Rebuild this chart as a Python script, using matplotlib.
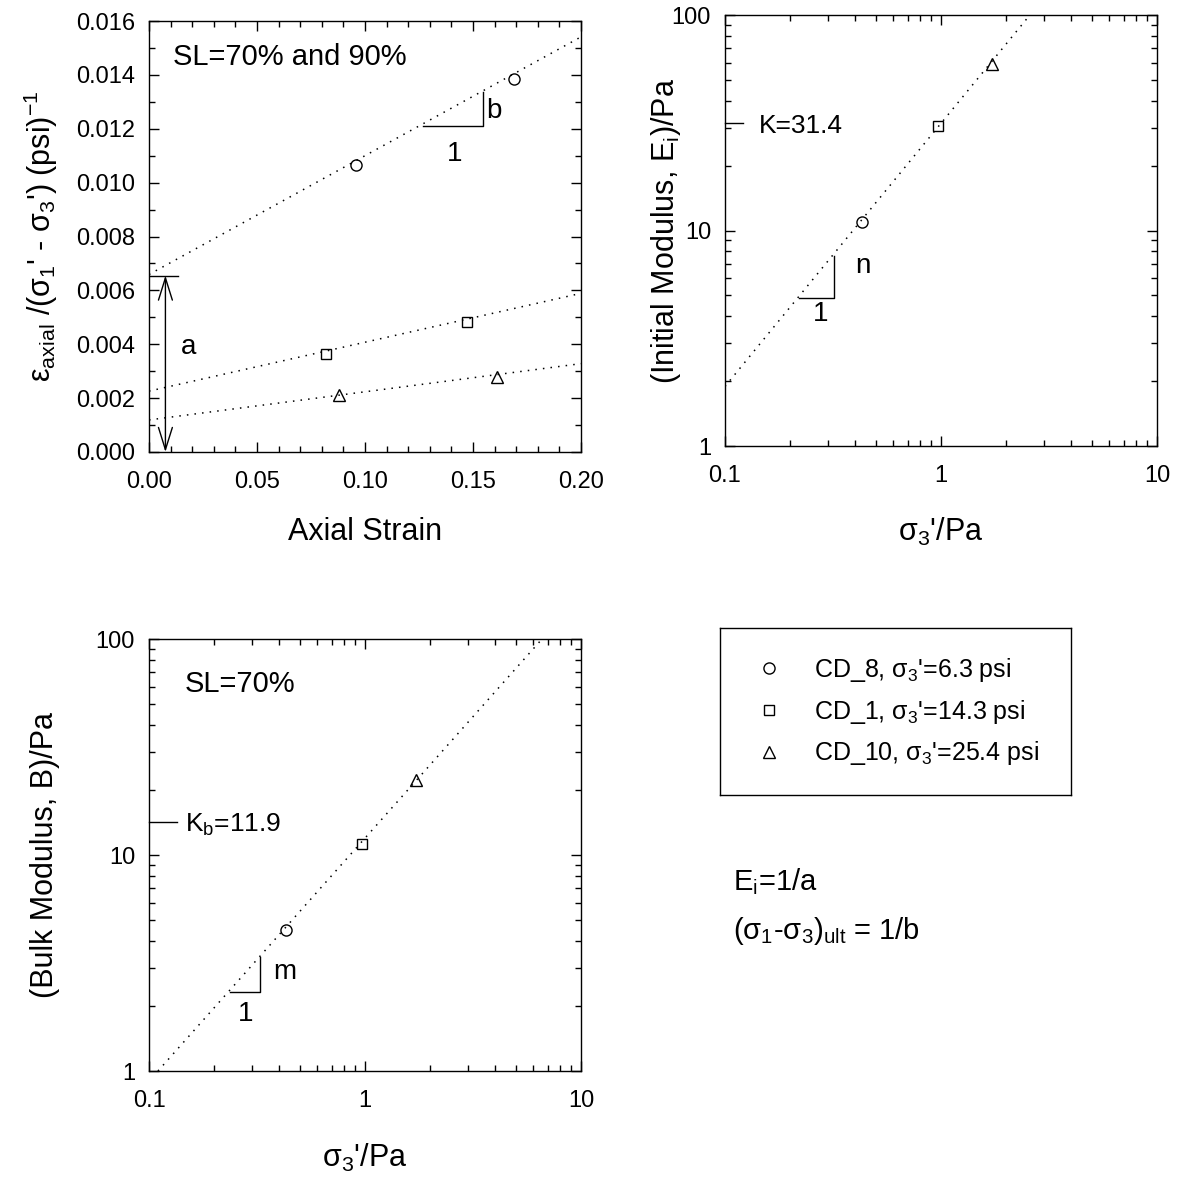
import numpy as np
import matplotlib
matplotlib.use('Agg')
import matplotlib.pyplot as plt
from matplotlib.ticker import MultipleLocator, FormatStrFormatter, LogLocator, NullFormatter

plt.rcParams['font.family'] = ['Liberation Sans', 'DejaVu Sans']
plt.rcParams['mathtext.default'] = 'regular'
plt.rcParams['axes.linewidth'] = 1.0

# hyperbolic plot: axial strain vs strain/deviator stress
strain_cd8 = [0.096, 0.169]
ratio_cd8 = [0.01067, 0.01386]
strain_cd1 = [0.082, 0.147]
ratio_cd1 = [0.00362, 0.00481]
strain_cd10 = [0.088, 0.161]
ratio_cd10 = [0.0021, 0.0028]
fit_strain = [0.0, 0.2]
fit_cd8 = [0.00659, 0.01541]
fit_cd1 = [0.00226, 0.00589]
fit_cd10 = [0.00119, 0.00328]

# normalised confining stress and moduli
sigma3_pa = [0.43, 0.97, 1.73]
Ei_pa = [10.96, 30.5, 59.0]
B_pa = [4.5, 11.3, 22.2]
Ei_fit_x = [0.1, 2.58]
Ei_fit_y = [1.89, 100.0]
B_fit_x = [0.11, 6.6]
B_fit_y = [1.0, 100.0]
K = 31.4
Kb_mark = 14.2   # where the K_b tick sits on the chart

labels = ["CD_8, σ$_3$'=6.3 psi", "CD_1, σ$_3$'=14.3 psi", "CD_10, σ$_3$'=25.4 psi"]
markers = ['o', 's', '^']

W = 1184.0
def box(l, t, r, b):
    return [l / W, 1 - b / W, (r - l) / W, (b - t) / W]

fig = plt.figure(figsize=(11.84, 11.84), dpi=100)
ax1 = fig.add_axes(box(149, 21, 581, 452))
ax2 = fig.add_axes(box(725, 15, 1157, 446))
ax3 = fig.add_axes(box(149, 639, 581, 1071))
axl = fig.add_axes(box(720, 628, 1071, 795))

dot = (0, (1, 4))
mk = dict(color='k', mfc='none', mew=1.0, ls='none')
msz = [8, 7, 8]

# ---- top left
ax1.plot(fit_strain, fit_cd8, color='k', lw=1.1, ls=dot)
ax1.plot(fit_strain, fit_cd1, color='k', lw=1.1, ls=dot)
ax1.plot(fit_strain, fit_cd10, color='k', lw=1.1, ls=dot)
h1 = ax1.plot(strain_cd8, ratio_cd8, marker='o', ms=msz[0], **mk)[0]
h2 = ax1.plot(strain_cd1, ratio_cd1, marker='s', ms=msz[1], **mk)[0]
h3 = ax1.plot(strain_cd10, ratio_cd10, marker='^', ms=msz[2], **mk)[0]
ax1.set_xlim(0, 0.2)
ax1.set_ylim(0, 0.016)
ax1.xaxis.set_major_locator(MultipleLocator(0.05))
ax1.xaxis.set_minor_locator(MultipleLocator(0.01))
ax1.yaxis.set_major_locator(MultipleLocator(0.002))
ax1.yaxis.set_minor_locator(MultipleLocator(0.001))
ax1.xaxis.set_major_formatter(FormatStrFormatter('%.2f'))
ax1.yaxis.set_major_formatter(FormatStrFormatter('%.3f'))
ax1.plot([0, 0.0133], [0.00655, 0.00655], color='k', lw=1)
ax1.annotate('', xy=(0.0076, 0.0), xytext=(0.0076, 0.00655),
             arrowprops=dict(arrowstyle='<->,head_length=0.8,head_width=0.25',
                             mutation_scale=20, lw=1, color='k',
                             shrinkA=0, shrinkB=0),
             annotation_clip=False)
ax1.text(0.0182, 0.00388, 'a', fontsize=20, ha='center', va='center')
ax1.plot([0.1268, 0.1544, 0.1544], [0.0121, 0.0121, 0.01336], color='k', lw=1)
ax1.text(0.1597, 0.01267, 'b', fontsize=20, ha='center', va='center')
ax1.text(0.1416, 0.01106, '1', fontsize=20, ha='center', va='center')
ax1.text(0.0111, 0.01466, 'SL=70% and 90%', fontsize=21, ha='left', va='center')
ax1.set_xlabel('Axial Strain', fontsize=22)
ax1.set_ylabel("ε$_{axial}$ /(σ$_1$' - σ$_3$') (psi)$^{-1}$", fontsize=22)
ax1.xaxis.set_label_coords(0.5, -0.15)
ax1.yaxis.set_label_coords(-0.205, 0.5)

# ---- top right
ax2.plot(Ei_fit_x, Ei_fit_y, color='k', lw=1.1, ls=dot)
for i in range(3):
    ax2.plot([sigma3_pa[i]], [Ei_pa[i]], marker=markers[i], ms=msz[i], **mk)
ax2.plot([0.1, 0.121], [K, K], color='k', lw=1, clip_on=False)
ax2.text(0.1436, K, 'K=31.4', fontsize=19, ha='left', va='center_baseline')
ax2.plot([0.221, 0.32, 0.32], [4.85, 4.85, 7.6], color='k', lw=1)
ax2.text(0.434, 6.86, 'n', fontsize=20, ha='center', va='center')
ax2.text(0.277, 4.1, '1', fontsize=20, ha='center', va='center')
ax2.set_ylabel('(Initial Modulus, E$_i$)/Pa', fontsize=22)
ax2.set_xlabel("σ$_3$'/Pa", fontsize=22)
ax2.xaxis.set_label_coords(0.5, -0.163)
ax2.yaxis.set_label_coords(-0.097, 0.5)

# ---- bottom left
ax3.plot(B_fit_x, B_fit_y, color='k', lw=1.1, ls=dot)
for i in range(3):
    ax3.plot([sigma3_pa[i]], [B_pa[i]], marker=markers[i], ms=msz[i], **mk)
ax3.plot([0.1, 0.135], [Kb_mark, Kb_mark], color='k', lw=1, clip_on=False)
ax3.text(0.147, Kb_mark, 'K$_b$=11.9', fontsize=19, ha='left', va='center_baseline')
ax3.plot([0.236, 0.325, 0.325], [2.31, 2.31, 3.36], color='k', lw=1)
ax3.text(0.425, 2.88, 'm', fontsize=20, ha='center', va='center')
ax3.text(0.279, 1.84, '1', fontsize=20, ha='center', va='center')
ax3.text(0.147, 61.6, 'SL=70%', fontsize=21, ha='left', va='center')
ax3.set_ylabel('(Bulk Modulus, B)/Pa', fontsize=22)
ax3.set_xlabel("σ$_3$'/Pa", fontsize=22)
ax3.xaxis.set_label_coords(0.5, -0.165)
ax3.yaxis.set_label_coords(-0.205, 0.5)

for ax in (ax2, ax3):
    ax.set_xscale('log')
    ax.set_yscale('log')
    ax.set_xlim(0.1, 10)
    ax.set_ylim(1, 100)
    for a in (ax.xaxis, ax.yaxis):
        a.set_major_locator(LogLocator(base=10))
        a.set_minor_locator(LogLocator(base=10, subs=np.arange(2, 10)))
        a.set_major_formatter(FormatStrFormatter('%g'))
        a.set_minor_formatter(NullFormatter())

for ax in (ax1, ax2, ax3):
    ax.tick_params(which='both', direction='in', top=True, right=True,
                   labelsize=17, pad=10, width=1)
    ax.tick_params(axis='x', which='both', pad=14)
    ax.tick_params(which='major', length=7)
    ax.tick_params(which='minor', length=4)

# ---- legend box
axl.set_xticks([])
axl.set_yticks([])
axl.legend([h1, h2, h3], labels, loc='center left', bbox_to_anchor=(0.103, 0.5),
           frameon=False, fontsize=18, handlelength=1.0, handletextpad=1.3,
           labelspacing=0.55, borderpad=0, borderaxespad=0, markerscale=1.0)

fig.text(733 / W, 1 - 890 / W, 'E$_i$=1/a', fontsize=21, ha='left', va='baseline')
fig.text(733 / W, 1 - 939 / W, '(σ$_1$-σ$_3$)$_{ult}$ = 1/b', fontsize=21,
         ha='left', va='baseline')

fig.savefig('out.png', dpi=100)
